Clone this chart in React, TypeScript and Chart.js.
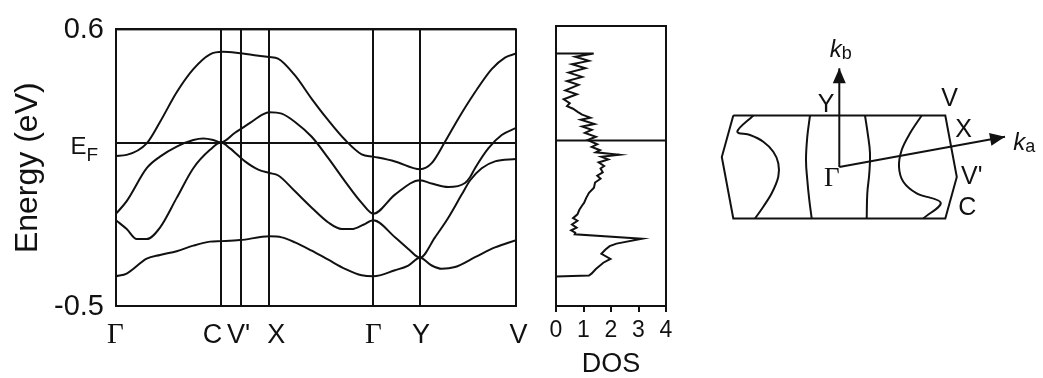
import React, { useEffect, useRef } from 'react';
import { Chart, registerables } from 'chart.js';
Chart.register(...registerables);

type P = [number, number];

// ---------------- data ----------------
const E_MIN = -0.5;
const E_MAX = 0.6;
const E_FERMI = 0.15;
const Y_TICK_VALUES = [-0.5, 0.6];
const Y_TICK_LABELS = ['-0.5', '0.6'];

const K_MAX = 4.0;
const K_POINTS = [0, 1.05, 1.245, 1.533, 2.573, 3.04, 4.0];
const K_LABELS = ['Γ', 'C', "V'", 'X', 'Γ', 'Y', 'V'];

const BAND1: P[] = [
  [0, 0.097], [0.107, 0.101], [0.307, 0.147], [0.44, 0.232], [0.607, 0.35], [0.773, 0.442],
  [0.94, 0.501], [1.07, 0.511], [1.24, 0.505], [1.49, 0.492], [1.533, 0.49], [1.62, 0.484],
  [1.79, 0.417], [1.957, 0.324], [2.12, 0.24], [2.29, 0.161], [2.457, 0.103], [2.573, 0.094],
  [2.79, 0.075], [3.04, 0.044], [3.157, 0.068], [3.29, 0.153], [3.423, 0.245], [3.59, 0.35],
  [3.757, 0.442], [3.89, 0.488], [4.0, 0.504],
];
const BAND2: P[] = [
  [0, -0.133], [0.107, -0.083], [0.307, 0.048], [0.44, 0.094], [0.607, 0.134], [0.773, 0.16],
  [0.873, 0.166], [0.973, 0.16], [1.05, 0.15], [1.19, 0.189], [1.34, 0.228], [1.46, 0.26],
  [1.533, 0.271], [1.657, 0.265], [1.79, 0.232], [1.957, 0.173], [2.123, 0.088], [2.29, -0.004],
  [2.457, -0.09], [2.573, -0.133], [2.79, -0.057], [3.04, 0.0], [3.157, -0.013], [3.323, -0.027],
  [3.49, -0.011], [3.54, 0.012], [3.59, 0.048], [3.723, 0.127], [3.857, 0.18], [4.0, 0.208],
];
const BAND3: P[] = [
  [0, -0.159], [0.107, -0.194], [0.207, -0.234], [0.307, -0.234], [0.44, -0.188], [0.607, -0.07],
  [0.773, 0.048], [0.94, 0.121], [1.05, 0.15], [1.14, 0.127], [1.29, 0.075], [1.423, 0.042],
  [1.533, 0.029], [1.623, 0.019], [1.79, -0.044], [1.957, -0.109], [2.123, -0.168], [2.257, -0.194],
  [2.357, -0.194], [2.473, -0.177], [2.573, -0.159], [2.79, -0.227], [2.923, -0.273], [3.04, -0.308],
  [3.19, -0.227], [3.323, -0.149], [3.457, -0.057], [3.54, -0.001], [3.657, 0.048], [3.79, 0.075],
  [4.0, 0.085],
];
const BAND4: P[] = [
  [0, -0.382], [0.107, -0.371], [0.307, -0.312], [0.44, -0.297], [0.607, -0.282], [0.773, -0.26],
  [0.94, -0.244], [1.05, -0.242], [1.24, -0.238], [1.533, -0.223], [1.657, -0.227], [1.79, -0.247],
  [1.957, -0.28], [2.123, -0.316], [2.29, -0.352], [2.457, -0.378], [2.573, -0.382], [2.79, -0.358],
  [2.923, -0.339], [3.04, -0.308], [3.157, -0.339], [3.257, -0.352], [3.39, -0.345], [3.59, -0.306],
  [3.79, -0.267], [4.0, -0.238],
];
const BANDS = [BAND1, BAND2, BAND3, BAND4];

const DOS_TICKS = [0, 1, 2, 3, 4];
const DOS_TITLE = 'DOS';
const DOS_E = [
  0.492, 0.492, 0.479, 0.463, 0.45, 0.434, 0.417, 0.4, 0.384, 0.369, 0.347, 0.332, 0.312, 0.297,
  0.285, 0.275, 0.262, 0.252, 0.24, 0.232, 0.215, 0.205, 0.192, 0.18, 0.165, 0.152, 0.135, 0.125,
  0.112, 0.104, 0.094, 0.086, 0.076, 0.064, 0.05, 0.04, 0.025, 0.012, 0.0, -0.015, -0.035, -0.055,
  -0.075, -0.095, -0.105, -0.122, -0.14, -0.155, -0.165, -0.18, -0.192, -0.203, -0.212, -0.218,
  -0.236, -0.255, -0.265, -0.278, -0.295, -0.315, -0.33, -0.355, -0.372, -0.38, -0.384,
];
const DOS_N = [
  0, 1.37, 0.7, 1.19, 0.58, 1.07, 0.46, 0.95, 0.4, 0.82, 0.34, 0.76, 0.28, 0.5,
  0.4, 0.62, 0.8, 0.95, 1.25, 0.9, 1.4, 0.95, 1.3, 1.05, 1.45, 1.15, 1.5, 1.3,
  1.6, 1.45, 2.3, 1.65, 1.9, 1.55, 1.75, 1.62, 1.7, 1.5, 1.62, 1.42, 1.38, 1.2,
  1.1, 1.02, 0.95, 0.85, 0.78, 0.62, 0.78, 0.58, 0.75, 0.55, 0.7, 0.68,
  3.13, 2.2, 1.95, 1.8, 1.65, 1.98, 1.72, 1.45, 1.3, 1.2, 0,
];

// Brillouin zone (origin at Γ, y up)
const BZ_OUTLINE: P[] = [[-106, 51.5], [106, 51.5], [117.5, -10], [106, -51.5], [-106, -51.5], [-117.5, 10], [-106, 51.5]];
const FS1: P[] = [[-86, 51.5], [-102, 35.3], [-89.3, 32], [-76, 25.3], [-66, 15.3], [-61, 3.7], [-61, -9.7], [-67.6, -26.3], [-76, -39.7], [-84.3, -51.5]];
const FS2: P[] = [[-29.3, 51.5], [-32, 30.3], [-33.3, 7], [-32, -13], [-30, -33], [-27.6, -51.5]];
const FS3: P[] = [[25.7, 51.5], [28.4, 33.7], [30.7, 13.7], [30, -6.3], [28, -26.3], [27.4, -51.5]];
const FS4: P[] = [[82.4, 51.5], [70.7, 33.7], [62.4, 17], [59.7, 0.3], [64, -14.7], [77.4, -26.3], [101.4, -35.7], [84, -51.5]];
const KA_AXIS: P[] = [[0, 0], [165.7, 30.3]];
const KB_AXIS: P[] = [[0, 0], [0, 98.7]];
const BZ_POINT_LABELS = ['Y', 'V', 'X', "V'", 'C', 'Γ'];
const BZ_POINT_POS: P[] = [[-13.3, 63.7], [110.4, 70.3], [124.4, 38.7], [132.4, -8], [128, -38.8], [-7.6, -9.7]];

// ---------------- styling ----------------
const INK = '#111';
const SANS = "'Liberation Sans', Arial, sans-serif";
const SERIF = "'Liberation Serif', 'Times New Roman', serif";
const CURVE_W = 2;
const FRAME_W = 2;

type Part = { t: string; font: string; dy?: number };
type TextItem = { x: number; y: number; dx?: number; dy?: number; align?: 'left' | 'center' | 'right'; parts: Part[] };

function textPlugin(items: TextItem[]) {
  return {
    id: 'texts',
    afterDraw(chart: any) {
      const ctx = chart.ctx;
      const xs = chart.scales.x;
      const ys = chart.scales.y;
      ctx.save();
      ctx.fillStyle = INK;
      ctx.textBaseline = 'alphabetic';
      ctx.textAlign = 'left';
      for (const it of items) {
        const px = xs.getPixelForValue(it.x) + (it.dx ?? 0);
        const py = ys.getPixelForValue(it.y) + (it.dy ?? 0);
        const widths = it.parts.map((p) => { ctx.font = p.font; return ctx.measureText(p.t).width; });
        const total = widths.reduce((a, b) => a + b, 0);
        let x = it.align === 'center' ? px - total / 2 : it.align === 'right' ? px - total : px;
        it.parts.forEach((p, i) => {
          ctx.font = p.font;
          ctx.fillText(p.t, x, py + (p.dy ?? 0));
          x += widths[i];
        });
      }
      ctx.restore();
    },
  };
}

function framePlugin(fermi: boolean) {
  return {
    id: 'frame',
    afterDraw(chart: any) {
      const { ctx, chartArea: a } = chart;
      ctx.save();
      ctx.strokeStyle = INK;
      ctx.lineWidth = FRAME_W;
      ctx.strokeRect(a.left, a.top, a.right - a.left, a.bottom - a.top);
      if (fermi) {
        const y = chart.scales.y.getPixelForValue(E_FERMI);
        ctx.beginPath();
        ctx.moveTo(a.left, y);
        ctx.lineTo(a.right, y);
        ctx.stroke();
      }
      ctx.restore();
    },
  };
}

const arrowPlugin = {
  id: 'arrows',
  afterDatasetsDraw(chart: any) {
    const ctx = chart.ctx;
    chart.data.datasets.forEach((ds: any, i: number) => {
      if (!ds.arrow) return;
      const pts = chart.getDatasetMeta(i).data;
      const a = pts[pts.length - 2];
      const b = pts[pts.length - 1];
      const ang = Math.atan2(b.y - a.y, b.x - a.x);
      const L = 15;
      const W = 6.5;
      const c = Math.cos(ang);
      const s = Math.sin(ang);
      ctx.save();
      ctx.fillStyle = INK;
      ctx.beginPath();
      ctx.moveTo(b.x, b.y);
      ctx.lineTo(b.x - L * c + W * s, b.y - L * s - W * c);
      ctx.lineTo(b.x - L * c - W * s, b.y - L * s + W * c);
      ctx.closePath();
      ctx.fill();
      ctx.restore();
    });
  },
};

const toXY = (pts: P[]) => pts.map(([x, y]) => ({ x, y }));

function buildBands(canvas: HTMLCanvasElement) {
  const labelOffsets = [-0.5, -8.5, -2, 7, 0, 1, 2.5];
  const items: TextItem[] = K_LABELS.map((t, i) => ({
    x: K_POINTS[i], y: E_MIN, dx: labelOffsets[i], dy: 37, align: 'center',
    parts: [{ t, font: t === 'Γ' ? `29px ${SERIF}` : `27px ${SANS}` }],
  }));
  items.push({
    x: 0, y: E_FERMI, dx: -18, dy: 11, align: 'right',
    parts: [{ t: 'E', font: `24px ${SANS}` }, { t: 'F', font: `19px ${SANS}`, dy: 7 }],
  });
  return new Chart(canvas, {
    type: 'scatter',
    data: {
      datasets: BANDS.map((b) => ({
        data: toXY(b), showLine: true, borderColor: INK, borderWidth: CURVE_W, pointRadius: 0,
        cubicInterpolationMode: 'monotone', fill: false,
      })),
    },
    options: {
      animation: false, responsive: false, devicePixelRatio: 1,
      layout: { padding: { left: 0, right: 14, top: 26, bottom: 0 } },
      plugins: { legend: { display: false }, tooltip: { enabled: false } },
      scales: {
        x: {
          type: 'linear', min: 0, max: K_MAX,
          afterBuildTicks: (s: any) => { s.ticks = K_POINTS.map((v) => ({ value: v })); },
          afterFit: (s: any) => { s.height = 72; },
          ticks: { display: false },
          grid: { color: INK, lineWidth: FRAME_W, drawTicks: false },
          border: { display: true, color: INK, width: FRAME_W },
        },
        y: {
          type: 'linear', min: E_MIN, max: E_MAX,
          afterBuildTicks: (s: any) => { s.ticks = [...Y_TICK_VALUES, E_FERMI].map((v) => ({ value: v })); },
          afterFit: (s: any) => { s.width = 116; },
          ticks: {
            callback: (v: any) => { const i = Y_TICK_VALUES.indexOf(Number(v)); return i >= 0 ? Y_TICK_LABELS[i] : ''; },
            font: { family: SANS, size: 29 }, color: INK, padding: 12, labelOffset: 1,
          },
          grid: { color: INK, lineWidth: FRAME_W, drawTicks: false },
          border: { display: true, color: INK, width: FRAME_W },
          title: { display: true, text: 'Energy (eV)', font: { family: SANS, size: 32 }, color: INK, padding: { top: 9, bottom: 0 } },
        },
      },
    },
    plugins: [framePlugin(false), textPlugin(items)],
  } as any);
}

function buildDos(canvas: HTMLCanvasElement) {
  const items: TextItem[] = [{
    x: (DOS_TICKS[0] + DOS_TICKS[DOS_TICKS.length - 1]) / 2, y: E_MIN, dy: 66, align: 'center',
    parts: [{ t: DOS_TITLE, font: `27px ${SANS}` }],
  }];
  return new Chart(canvas, {
    type: 'scatter',
    data: {
      datasets: [{
        data: DOS_E.map((e, i) => ({ x: DOS_N[i], y: e })), showLine: true, borderColor: INK,
        borderWidth: CURVE_W, pointRadius: 0, tension: 0, fill: false,
      }],
    },
    options: {
      animation: false, responsive: false, devicePixelRatio: 1,
      layout: { padding: { left: 26, right: 34, top: 26, bottom: 0 } },
      plugins: { legend: { display: false }, tooltip: { enabled: false } },
      scales: {
        x: {
          type: 'linear', min: DOS_TICKS[0], max: DOS_TICKS[DOS_TICKS.length - 1],
          afterBuildTicks: (s: any) => { s.ticks = DOS_TICKS.map((v) => ({ value: v })); },
          afterFit: (s: any) => { s.height = 72; },
          ticks: { font: { family: SANS, size: 23 }, color: INK, padding: 5, maxRotation: 0 },
          grid: { drawOnChartArea: false, drawTicks: true, tickLength: 6, color: INK, lineWidth: FRAME_W },
          border: { display: true, color: INK, width: FRAME_W },
        },
        y: { type: 'linear', display: false, min: E_MIN, max: E_MAX },
      },
    },
    plugins: [framePlugin(true), textPlugin(items)],
  } as any);
}

function buildBZ(canvas: HTMLCanvasElement) {
  const line = (pts: P[], tension: number, arrow = false) => ({
    data: toXY(pts), showLine: true, borderColor: INK, borderWidth: CURVE_W, pointRadius: 0,
    tension, fill: false, arrow,
  });
  const items: TextItem[] = BZ_POINT_LABELS.map((t, i) => ({
    x: BZ_POINT_POS[i][0], y: BZ_POINT_POS[i][1], dy: 9, align: 'center',
    parts: [{ t, font: t === 'Γ' ? `27px ${SERIF}` : `25px ${SANS}` }],
  }));
  items.push({
    x: KB_AXIS[1][0] + 1.5, y: KB_AXIS[1][1] + 11.6, align: 'center',
    parts: [{ t: 'k', font: `italic 24px ${SANS}` }, { t: 'b', font: `18px ${SANS}`, dy: 2 }],
  });
  items.push({
    x: KA_AXIS[1][0] + 8.3, y: KA_AXIS[1][1] - 13.3, align: 'left',
    parts: [{ t: 'k', font: `italic 24px ${SANS}` }, { t: 'a', font: `18px ${SANS}`, dy: 2 }],
  });
  return new Chart(canvas, {
    type: 'scatter',
    data: {
      datasets: [
        line(BZ_OUTLINE, 0), line(FS1, 0.35), line(FS2, 0.4), line(FS3, 0.4), line(FS4, 0.35),
        line(KA_AXIS, 0, true), line(KB_AXIS, 0, true),
      ],
    },
    options: {
      animation: false, responsive: false, devicePixelRatio: 1,
      layout: { padding: 0 },
      plugins: { legend: { display: false }, tooltip: { enabled: false } },
      scales: {
        x: { type: 'linear', display: false, min: -139.3, max: 203.7 },
        y: { type: 'linear', display: false, min: -211, max: 167 },
      },
    },
    plugins: [arrowPlugin, textPlugin(items)],
  } as any);
}

function ChartCanvas({ left, width, build }: { left: number; width: number; build: (c: HTMLCanvasElement) => Chart }) {
  const ref = useRef<HTMLCanvasElement>(null);
  useEffect(() => {
    const chart = build(ref.current as HTMLCanvasElement);
    return () => chart.destroy();
  }, [build]);
  return (
    <canvas
      ref={ref}
      width={width}
      height={378}
      style={{ position: 'absolute', left, top: 0, width, height: 378, display: 'block' }}
    />
  );
}

export default function App() {
  return (
    <div style={{ position: 'absolute', left: 0, top: 0, width: 1043, height: 378, background: '#fff', overflow: 'hidden' }}>
      <ChartCanvas left={0} width={530} build={buildBands} />
      <ChartCanvas left={530} width={170} build={buildDos} />
      <ChartCanvas left={700} width={343} build={buildBZ} />
    </div>
  );
}
